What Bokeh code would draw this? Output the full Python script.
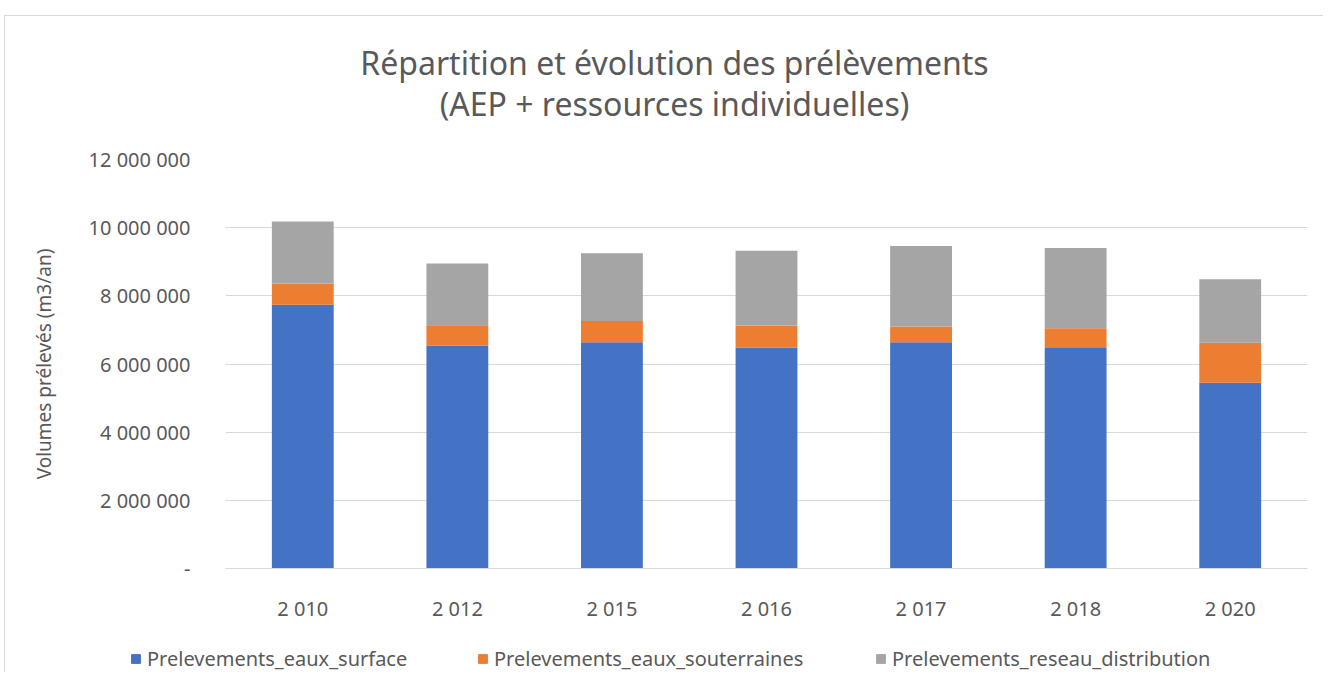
from bokeh.plotting import figure
from bokeh.models import Legend, LegendItem, FixedTicker, ColumnDataSource, Label
from bokeh.layouts import column, row
from bokeh.embed import file_html
from bokeh.resources import INLINE

years = ["2 010", "2 012", "2 015", "2 016", "2 017", "2 018", "2 020"]
surface = [7740000, 6540000, 6640000, 6480000, 6640000, 6490000, 5450000]
souterraines = [620000, 600000, 620000, 650000, 460000, 560000, 1170000]
reseau = [1820000, 1810000, 1990000, 2190000, 2360000, 2350000, 1870000]
series = ["Prelevements_eaux_surface", "Prelevements_eaux_souterraines", "Prelevements_reseau_distribution"]
colors = ["#4472C4", "#ED7D31", "#A5A5A5"]
yticks = [0, 2000000, 4000000, 6000000, 8000000, 10000000, 12000000]
ytick_labels = ["-", "2 000 000", "4 000 000", "6 000 000", "8 000 000", "10 000 000", "12 000 000"]
title_lines = ["Répartition et évolution des prélèvements", "(AEP + ressources individuelles)"]

FONT = "Noto Sans"
TXT = "#595959"
DX = 5          # left offset taken by the outer margin + border
W = 1323 - DX

# ---- title strip ----
TH = 114
pt = figure(width=W, height=TH, x_range=(0, W), y_range=(0, TH),
            output_backend="svg", toolbar_location=None,
            min_border_left=0, min_border_right=0, min_border_top=0, min_border_bottom=0)
pt.axis.visible = False
pt.grid.visible = False
pt.outline_line_color = None
for txt, y in zip(title_lines, [68, 27]):
    pt.add_layout(Label(x=674 - DX, y=y, text=txt, text_align="center", text_baseline="middle",
                        text_font=FONT, text_font_size="32px", text_color=TXT))

# ---- main chart ----
src = ColumnDataSource(dict(x=years, s1=surface, s2=souterraines, s3=reseau))
p = figure(x_range=years, y_range=(0, 12000000), width=W, height=494,
           output_backend="svg", toolbar_location=None,
           min_border_left=225 - DX, min_border_right=W - (1307 - DX), min_border_top=29,
           min_border_bottom=50)
r = p.vbar_stack(["s1", "s2", "s3"], x="x", width=0.4, color=colors, line_color=None, source=src)

p.outline_line_color = None
p.xgrid.grid_line_color = None
p.ygrid.grid_line_color = "#D9D9D9"
p.ygrid.grid_line_width = 1
p.yaxis.ticker = FixedTicker(ticks=yticks)
p.yaxis.major_label_overrides = {float(t): l for t, l in zip(yticks, ytick_labels)}
p.yaxis.axis_line_color = None
p.yaxis.major_tick_line_color = None
p.yaxis.minor_tick_line_color = None
p.yaxis.major_label_standoff = 29
p.yaxis.major_label_text_font = FONT
p.yaxis.major_label_text_font_size = "20px"
p.yaxis.major_label_text_color = TXT
p.yaxis.axis_label = "Volumes prélevés (m3/an)"
p.yaxis.axis_label_text_font = FONT
p.yaxis.axis_label_text_font_size = "19px"
p.yaxis.axis_label_text_font_style = "normal"
p.yaxis.axis_label_text_color = TXT
p.yaxis.axis_label_standoff = 29

p.xaxis.axis_line_color = "#D9D9D9"
p.xaxis.major_tick_line_color = None
p.xaxis.minor_tick_line_color = None
p.xaxis.major_label_standoff = 20
p.xaxis.major_label_text_font = FONT
p.xaxis.major_label_text_font_size = "20px"
p.xaxis.major_label_text_color = TXT

# ---- legend strip ----
pl = figure(width=W, height=48, x_range=(0, W), y_range=(0, 48),
            output_backend="svg", toolbar_location=None,
            min_border_left=0, min_border_right=0, min_border_top=0, min_border_bottom=0)
pl.axis.visible = False
pl.grid.visible = False
pl.outline_line_color = None
for s, c, lx in zip(series, colors, [130, 477, 875]):
    # proxy renderer kept outside the visible range: only its legend swatch is seen
    rr = pl.vbar(x=[-1000], top=[-1000], bottom=[-1001], width=1, color=c)
    lg = Legend(items=[LegendItem(label=s, renderers=[rr])], location=(lx - DX, 0),
                label_text_font=FONT, label_text_font_size="20px", label_text_color=TXT,
                glyph_width=11, glyph_height=11, label_standoff=6,
                border_line_color=None, background_fill_alpha=0, margin=0, padding=0)
    pl.add_layout(lg, "center")

layout = column(row(pt), p, row(pl), spacing=0, margin=(15, 0, 0, 4),
                styles={"border-top": "1px solid #D9D9D9", "border-left": "1px solid #D9D9D9"})
open("out.html", "w").write(file_html(layout, INLINE))
